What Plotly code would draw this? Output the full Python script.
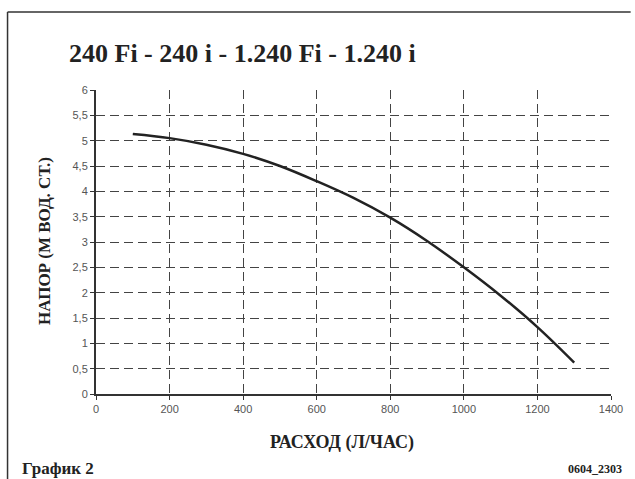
import plotly.graph_objects as go

flow = [100, 200, 300, 400, 500, 600, 700, 800, 900, 1000, 1100, 1200, 1300]
head = [5.13, 5.05, 4.92, 4.74, 4.50, 4.20, 3.87, 3.48, 3.02, 2.50, 1.94, 1.32, 0.62]

title_text = "240 Fi - 240 i - 1.240 Fi - 1.240 i"
x_title = "РАСХОД (Л/ЧАС)"
y_title = "НАПОР (М ВОД. СТ.)"
caption = "График 2"
code_text = "0604_2303"

W, H = 635, 479
L, R, T, B = 96, 15, 90, 85
pw, ph = W - L - R, H - T - B


def px(x):
    return (x - L) / pw


def py(y):
    return (H - B - y) / ph


serif = "Liberation Serif, Times New Roman, serif"
sans = "Liberation Sans, Arial, sans-serif"

fig = go.Figure()
fig.add_trace(go.Scatter(
    x=flow, y=head, mode="lines", line=dict(color="#222", width=2.5, shape="spline"),
    showlegend=False, hoverinfo="skip"
))

fig.update_layout(
    width=W, height=H, margin=dict(l=L, r=R, t=T, b=B),
    paper_bgcolor="white", plot_bgcolor="white", separators=", ",
    font=dict(family=sans, color="#333"),
    shapes=[
        dict(type="line", xref="paper", yref="paper", x0=px(6), x1=px(W + 5), y0=py(12), y1=py(12),
             line=dict(color="#333", width=1.5)),
        dict(type="line", xref="paper", yref="paper", x0=px(6), x1=px(6), y0=py(12), y1=py(H + 5),
             line=dict(color="#333", width=1.5)),
    ],
    annotations=[
        dict(text=f"<b>{title_text}</b>", xref="paper", yref="paper", x=px(67), y=py(53),
             xanchor="left", yanchor="middle", showarrow=False,
             font=dict(family=serif, size=26, color="#222")),
        dict(text=f"<b>{x_title}</b>", xref="paper", yref="paper", x=px(346), y=py(442),
             xanchor="center", yanchor="middle", showarrow=False,
             font=dict(family=serif, size=18, color="#222")),
        dict(text=f"<b>{y_title}</b>", xref="paper", yref="paper", x=px(43), y=py(241),
             xanchor="center", yanchor="middle", showarrow=False, textangle=-90,
             font=dict(family=serif, size=17, color="#222")),
        dict(text=f"<b>{caption}</b>", xref="paper", yref="paper", x=px(19), y=py(468),
             xanchor="left", yanchor="middle", showarrow=False,
             font=dict(family=serif, size=17, color="#222")),
        dict(text=f"<b>{code_text}</b>", xref="paper", yref="paper", x=px(633), y=py(469),
             xanchor="right", yanchor="middle", showarrow=False,
             font=dict(family=serif, size=12, color="#222")),
    ],
)

fig.update_xaxes(
    range=[0, 1400], dtick=200, tick0=0, showgrid=True, gridcolor="#444", griddash="9px,5px",
    gridwidth=1, showline=True, linecolor="#333", linewidth=2, ticks="outside", ticklen=4,
    tickcolor="#333", zeroline=False, tickfont=dict(family=sans, size=11, color="#555"),
    fixedrange=True
)
fig.update_yaxes(
    range=[0, 6], dtick=0.5, tick0=0, showgrid=True, gridcolor="#444", griddash="9px,5px",
    gridwidth=1, showline=True, linecolor="#333", linewidth=2, ticks="outside", ticklen=4,
    tickcolor="#333", zeroline=False, tickfont=dict(family=sans, size=11, color="#555"),
    fixedrange=True
)

fig.write_html("out.html", config=dict(displayModeBar=False),
               post_script="document.body.style.margin='0px';")
